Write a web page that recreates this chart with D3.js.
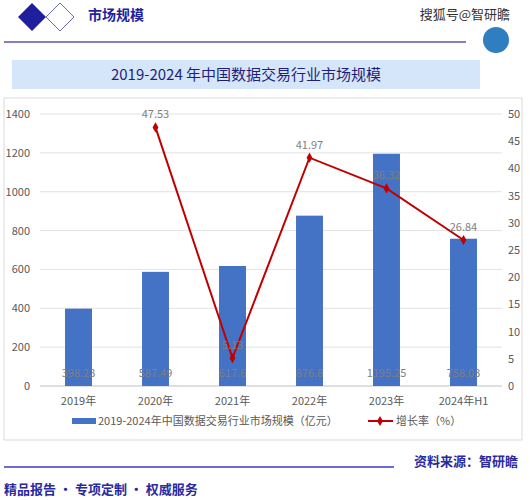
<!DOCTYPE html><html><head><meta charset="utf-8"><script src="https://cdn.jsdelivr.net/npm/d3@7"></script>
<style>body{margin:0;background:#fff}text{font-family:"Noto Sans CJK SC","DejaVu Sans",sans-serif}</style></head><body>
<svg id="c" width="530" height="500"></svg>
<script>
const categories=["2019年","2020年","2021年","2022年","2023年","2024年H1"];
const sizeValues=[398.23,587.49,617.6,876.8,1195.25,758.03];
const growthValues=[null,47.53,5.13,41.97,36.32,26.84];
const leftTicks=[0,200,400,600,800,1000,1200,1400];
const rightTicks=[0,5,10,15,20,25,30,35,40,45,50];
const svg=d3.select("#c");
// header
svg.append("path").attr("d","M18,17 L32,3 L46,17 L32,31Z").attr("fill","#1f1f9e");
svg.append("path").attr("d","M46,17 L60,3 L74,17 L60,31Z").attr("fill","#fff").attr("stroke","#6a6ac0").attr("stroke-width",1);
svg.append("text").attr("x",88).attr("y",20).attr("font-size",14).attr("font-weight","bold").attr("fill","#1f1f9e").text("市场规模");
svg.append("text").attr("x",510).attr("y",19).attr("text-anchor","end").attr("font-size",13).attr("fill","#333").text("搜狐号@智研瞻");
svg.append("line").attr("x1",4).attr("x2",466).attr("y1",42).attr("y2",42).attr("stroke","#5a55b0").attr("stroke-width",1.5);
svg.append("circle").attr("cx",496).attr("cy",40).attr("r",13).attr("fill","#2f7fc0");
svg.append("rect").attr("x",12).attr("y",60).attr("width",468).attr("height",29).attr("fill","#d6e6fa");
svg.append("text").attr("x",246).attr("y",80).attr("text-anchor","middle").attr("font-size",15).attr("fill","#1f1f7a").text("2019-2024 年中国数据交易行业市场规模");
svg.append("rect").attr("x",4).attr("y",98).attr("width",518).attr("height",342).attr("fill","#fff").attr("stroke","#d9d9d9");
const x=d3.scaleBand().domain(categories).range([40,502]).paddingInner(0.65).paddingOuter(0.325);
const y=d3.scaleLinear().domain([0,1400]).range([386,114]);
const y2=d3.scaleLinear().domain([0,50]).range([386,114]);
const g=svg.append("g");
g.selectAll(".gl").data(leftTicks).join("line").attr("x1",40).attr("x2",502).attr("y1",d=>y(d)).attr("y2",d=>y(d)).attr("stroke",(d)=>d===0?"#bfbfbf":"#e3e3e3");
g.selectAll(".lt").data(leftTicks).join("text").attr("x",30).attr("y",d=>y(d)+4).attr("text-anchor","end").attr("font-size",11).attr("fill","#595959").text(d=>d);
g.selectAll(".rt").data(rightTicks).join("text").attr("x",508).attr("y",d=>y2(d)+4).attr("font-size",11).attr("fill","#595959").text(d=>d);
g.selectAll(".bar").data(sizeValues).join("rect").attr("x",(d,i)=>x(categories[i])).attr("width",x.bandwidth()).attr("y",d=>y(d)).attr("height",d=>386-y(d)).attr("fill","#4472c4");
g.selectAll(".bl").data(sizeValues).join("text").attr("x",(d,i)=>x(categories[i])+x.bandwidth()/2).attr("y",377).attr("text-anchor","middle").attr("font-size",11).attr("fill","#7f7f7f").text(d=>d);
g.selectAll(".xl").data(categories).join("text").attr("x",d=>x(d)+x.bandwidth()/2).attr("y",405).attr("text-anchor","middle").attr("font-size",11).attr("fill","#595959").text(d=>d);
const pts=growthValues.map((v,i)=>({v,c:categories[i]})).filter(d=>d.v!=null);
const line=d3.line().x(d=>x(d.c)+x.bandwidth()/2).y(d=>y2(d.v));
g.append("path").attr("d",line(pts)).attr("fill","none").attr("stroke","#c00000").attr("stroke-width",2);
g.selectAll(".pt").data(pts).join("path").attr("transform",d=>`translate(${x(d.c)+x.bandwidth()/2},${y2(d.v)})`).attr("d",d3.symbol(d3.symbolDiamond,30)).attr("fill","#c00000");
g.selectAll(".pl").data(pts).join("text").attr("x",d=>x(d.c)+x.bandwidth()/2).attr("y",d=>y2(d.v)-9).attr("text-anchor","middle").attr("font-size",11).attr("fill","#7f7f7f").text(d=>d.v);
// legend
svg.append("rect").attr("x",72).attr("y",418).attr("width",24).attr("height",6).attr("fill","#4472c4");
svg.append("text").attr("x",98).attr("y",425).attr("font-size",11).attr("fill","#595959").text("2019-2024年中国数据交易行业市场规模（亿元）");
svg.append("line").attr("x1",368).attr("x2",393).attr("y1",421).attr("y2",421).attr("stroke","#c00000").attr("stroke-width",2);
svg.append("path").attr("transform","translate(380,421)").attr("d",d3.symbol(d3.symbolDiamond,30)).attr("fill","#c00000");
svg.append("text").attr("x",396).attr("y",425).attr("font-size",11).attr("fill","#595959").text("增长率（%）");
// footer
svg.append("line").attr("x1",4).attr("x2",394).attr("y1",467).attr("y2",467).attr("stroke","#3a3ad0").attr("stroke-width",1.5);
svg.append("text").attr("x",518).attr("y",466).attr("text-anchor","end").attr("font-size",13).attr("font-weight","bold").attr("fill","#2a2aa0").text("资料来源：智研瞻");
svg.append("text").attr("x",4).attr("y",494).attr("font-size",13).attr("font-weight","bold").attr("fill","#2a2aa0").text("精品报告 ·  专项定制 · 权威服务");
</script></body></html>
